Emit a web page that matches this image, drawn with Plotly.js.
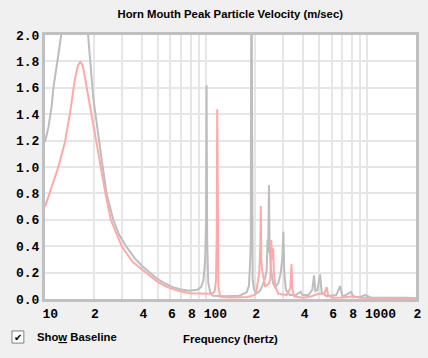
<!DOCTYPE html>
<html>
<head>
<meta charset="utf-8">
<script src="https://cdn.plot.ly/plotly-3.0.1.min.js"></script>
<style>html,body{margin:0;padding:0;background:#f0f0f0;}#chart{width:428px;height:358px;}</style>
</head>
<body>
<div id="chart"></div>
<script>
// Baseline (gray) series: frequency (Hz) and peak particle velocity (m/sec)
const baselineFreq = [10,10.5,11,11.3,12,12.5,13,14,15,16,17,18,18.5,19.9,20.7,21.7,22.8,24.1,26.5,29,31.8,36,40,44.8,50,55,62,70,79,88,93,96,98.5,99.8,100.5,101.3,103,106,110,130,160,178,184,187.5,189,190.6,192,194,198,205,215,222,232,237,240,242,245,247,252,260,267,280,289,296,301,305,312,330,360,385,395,430,455,466,475,490,508,520,560,640,676,700,733,791,820,900,966,1050,1200,1303,1484,1754,2000];
const baselineVel  = [1.19,1.30,1.46,1.61,1.82,2.0,2.2,2.5,2.65,2.6,2.4,2.12,2.0,1.53,1.36,1.19,1.0,0.8,0.6,0.48,0.4,0.31,0.25,0.2,0.15,0.12,0.09,0.072,0.063,0.07,0.09,0.14,0.3,0.6,1.62,0.45,0.12,0.05,0.025,0.02,0.025,0.05,0.1,0.3,0.45,3.0,0.5,0.15,0.07,0.043,0.06,0.093,0.16,0.22,0.45,0.35,0.864,0.4,0.22,0.12,0.09,0.12,0.19,0.3,0.51,0.2,0.07,0.03,0.03,0.055,0.03,0.03,0.07,0.18,0.06,0.07,0.187,0.05,0.02,0.03,0.098,0.02,0.03,0.053,0.015,0.015,0.03,0.012,0.01,0.012,0.01,0.01,0.005];

// Current design (pink) series
const designFreq = [10,10.5,11,12.1,13.3,14.3,15.3,16,16.6,17.2,18.1,19,19.9,20.9,22.2,23.7,25.6,29.9,35,42.6,50,56.9,68,79,90,97,105,110,113,115,116.2,117,117.8,119,122,140,180,200,205,213,216.5,218,219.5,222,232,245,250,253,256,260,263,268,280,315,332,338,342,350,400,450,470,500,540,558,570,600,700,818,900,1000,1200,1500,2000];
const designVel  = [0.70,0.78,0.86,1.0,1.19,1.41,1.66,1.77,1.80,1.76,1.61,1.46,1.33,1.19,1.0,0.8,0.6,0.4,0.28,0.195,0.13,0.093,0.06,0.043,0.04,0.04,0.04,0.045,0.06,0.144,0.5,1.437,0.4,0.093,0.017,0.012,0.015,0.03,0.068,0.195,0.4,0.705,0.3,0.22,0.093,0.12,0.15,0.447,0.3,0.384,0.2,0.093,0.04,0.03,0.08,0.265,0.08,0.02,0.01,0.02,0.03,0.04,0.04,0.09,0.03,0.01,0.012,0.02,0.01,0.01,0.008,0.008,0.005];

// Axis ticks
const xTickVals = [10,20,30,40,50,60,70,80,90,100,200,300,400,500,600,700,800,900,1000,2000];
const xTickText = ["10","2","","4","","6","","8","","100","2","","4","","6","","8","","1000","2"];
const yTickVals = [0,0.2,0.4,0.6,0.8,1.0,1.2,1.4,1.6,1.8,2.0];
const yTickText = ["0.0","0.2","0.4","0.6","0.8","1.0","1.2","1.4","1.6","1.8","2.0"];

const titleText = "Horn Mouth Peak Particle Velocity (m/sec)";
const xTitleText = "Frequency (hertz)";
const checkboxLabel = "Sho<u>w</u> Baseline";

const tickFont = {family: "Liberation Mono, DejaVu Sans Mono, monospace", size: 13, color: "#000000", weight: "bold"};
const labelFont = {family: "Liberation Sans, Arial, sans-serif", size: 11.3, color: "#000000", weight: "bold"};

const traces = [
  {x: baselineFreq, y: baselineVel, type: "scatter", mode: "lines", line: {color: "#bdbdbd", width: 2}, hoverinfo: "skip"},
  {x: designFreq, y: designVel, type: "scatter", mode: "lines", line: {color: "#ffaaaa", width: 2}, hoverinfo: "skip"}
];

const layout = {
  width: 428, height: 358,
  margin: {l: 45, r: 12, t: 35, b: 59},
  paper_bgcolor: "#f0f0f0",
  plot_bgcolor: "#ffffff",
  showlegend: false,
  title: {text: "<b>" + titleText + "</b>", font: labelFont, x: 0.538, xanchor: "center", y: 0.96, yanchor: "middle"},
  xaxis: {
    type: "log", range: [1, Math.log10(2000)],
    tickvals: xTickVals, ticktext: xTickText, tickfont: tickFont, tickangle: 0,
    ticklabelposition: "outside right", ticklabelshift: -4,
    showgrid: true, gridcolor: "#e6e6e6", gridwidth: 2,
    showline: true, linecolor: "#c0c0c0", linewidth: 3, mirror: true,
    ticks: "", zeroline: false,
    title: {text: "<b>" + xTitleText + "</b>", font: labelFont, standoff: 15}
  },
  yaxis: {
    range: [0, 2.0],
    tickvals: yTickVals, ticktext: yTickText, tickfont: tickFont,
    showgrid: true, gridcolor: "#e6e6e6", gridwidth: 2,
    showline: true, linecolor: "#c0c0c0", linewidth: 3, mirror: true,
    ticks: "", zeroline: false
  },
  shapes: [
    {type: "rect", xref: "paper", yref: "paper", x0: -0.089, x1: -0.057, y0: -0.167, y1: -0.121,
     line: {color: "#808080", width: 1}, fillcolor: "#ffffff"}
  ],
  annotations: [
    {xref: "paper", yref: "paper", x: -0.073, y: -0.144, text: "✔", showarrow: false,
     font: {family: "DejaVu Sans", size: 10, color: "#000000"}, xanchor: "center", yanchor: "middle"},
    {xref: "paper", yref: "paper", x: -0.027, y: -0.144, text: "<b>" + checkboxLabel + "</b>", showarrow: false,
     font: labelFont, xanchor: "left", yanchor: "middle"}
  ]
};

Plotly.newPlot("chart", traces, layout, {staticPlot: true, displayModeBar: false});
</script>
</body>
</html>
